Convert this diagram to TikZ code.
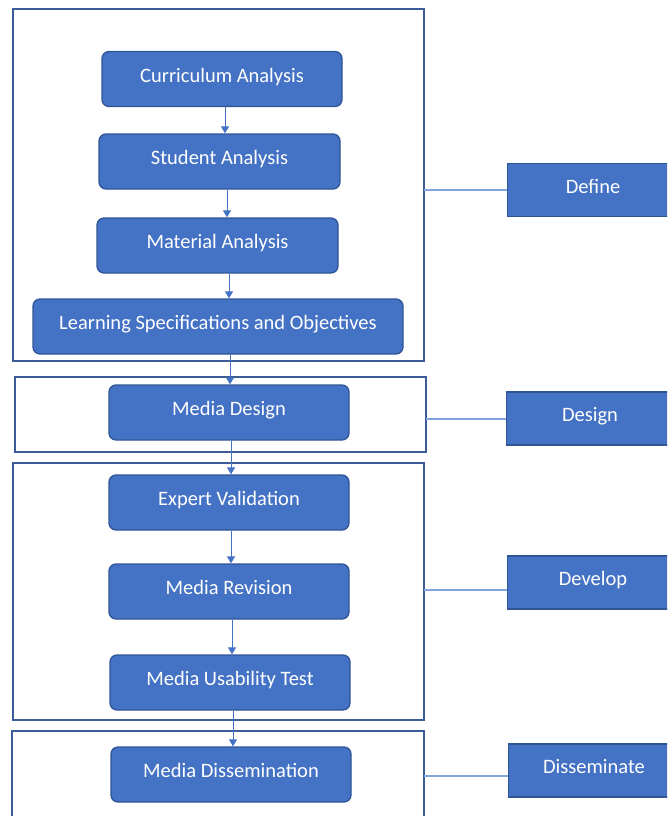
\documentclass[tikz,border=0pt]{standalone}
\usepackage{fontspec}
\setmainfont{Carlito}
\usetikzlibrary{arrows.meta}
\definecolor{boxfill}{HTML}{4472C4}
\definecolor{boxedge}{HTML}{2F5597}
\definecolor{groupedge}{HTML}{3B5C98}
\definecolor{linkcol}{HTML}{7FA3DA}
\tikzset{
  boxtext/.style={text=white, font=\fontsize{20.5}{24}\selectfont,
    text height=14pt, text depth=8pt},
  stepbox/.style={draw=boxedge, line width=1.3pt, fill=boxfill, rounded corners=7pt,
    boxtext, inner sep=0pt, minimum width=240pt, minimum height=55pt},
  phasebox/.style={draw=boxedge, line width=1.3pt, fill=boxfill,
    boxtext, inner sep=0pt, minimum height=53pt},
  groupbox/.style={draw=groupedge, line width=1.6pt},
  flow/.style={draw=boxfill, line width=1pt, -{Triangle[width=8pt,length=7pt]}},
  link/.style={draw=linkcol, line width=1.2pt},
}
\begin{document}
\begin{tikzpicture}[x=1pt, y=-1pt]
\useasboundingbox (0,0) rectangle (667,816);
\clip (0,0) rectangle (667,816);

% phase frames
\draw[groupbox] (13,9) rectangle (424,361);
\draw[groupbox] (15,377) rectangle (426,452);
\draw[groupbox] (13,463) rectangle (424,720);
\draw[groupbox] (12,731) rectangle (424,830);
\coordinate (fDefine) at (424,190);
\coordinate (fDesign) at (426,419);
\coordinate (fDevelop) at (424,590);
\coordinate (fDissem) at (424,776);

% process steps
\node[stepbox] (ca) at (222,79) {Curriculum Analysis};
\node[stepbox, minimum width=241pt] (sa) at (219.5,161.5) {Student Analysis};
\node[stepbox, minimum width=241pt] (ma) at (217.5,245.5) {Material Analysis};
\node[stepbox, minimum width=370pt] (ls) at (218,326.5) {Learning Specifications and Objectives};
\node[stepbox] (md) at (229,412.5) {Media Design};
\node[stepbox] (ev) at (229,502.5) {Expert Validation};
\node[stepbox] (mr) at (229,591.5) {Media Revision};
\node[stepbox] (mu) at (230,682.5) {Media Usability Test};
\node[stepbox] (mdis) at (231,774.5) {Media Dissemination};

% phase labels (boxes run off the right edge, text centred on the visible part)
\node[phasebox, minimum width=175pt, anchor=west] (pDefine) at (507,190) {};
\node[boxtext] at (593,190) {Define};
\node[phasebox, minimum width=175pt, anchor=west] (pDesign) at (506,418.5) {};
\node[boxtext] at (590,418.5) {Design};
\node[phasebox, minimum width=175pt, anchor=west] (pDevelop) at (507,582.5) {};
\node[boxtext] at (593,582.5) {Develop};
\node[phasebox, minimum width=175pt, anchor=west] (pDissem) at (508,770.5) {};
\node[boxtext] at (594,770.5) {Disseminate};

% flow arrows
\draw[flow] (ca.south -| 225,0) -- (sa.north -| 225,0);
\draw[flow] (sa.south -| 227,0) -- (ma.north -| 227,0);
\draw[flow] (ma.south -| 229,0) -- (ls.north -| 229,0);
\draw[flow] (ls.south -| 230,0) -- (md.north -| 230,0);
\draw[flow] (md.south -| 231,0) -- (ev.north -| 231,0);
\draw[flow] (ev.south -| 231,0) -- (mr.north -| 231,0);
\draw[flow] (mr.south -| 232,0) -- (mu.north -| 232,0);
\draw[flow] (mu.south -| 233,0) -- (mdis.north -| 233,0);

% frame-to-label links
\draw[link] (fDefine) -- (pDefine.west |- fDefine);
\draw[link] (fDesign) -- (pDesign.west |- fDesign);
\draw[link] (fDevelop) -- (pDevelop.west |- fDevelop);
\draw[link] (fDissem) -- (pDissem.west |- fDissem);
\end{tikzpicture}
\end{document}
